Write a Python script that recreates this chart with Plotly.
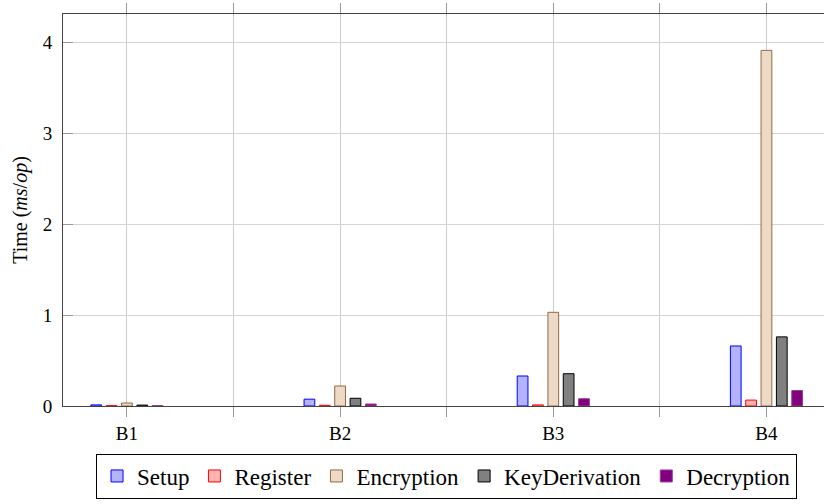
import plotly.graph_objects as go

categories = ["B1", "B2", "B3", "B4"]
setup = [0.012, 0.075, 0.33, 0.66]
register = [0.004, 0.008, 0.012, 0.065]
encryption = [0.033, 0.22, 1.03, 3.91]
key_derivation = [0.010, 0.085, 0.355, 0.76]
decryption = [0.005, 0.022, 0.08, 0.17]

series = [
    ("Setup", setup, "rgb(179,179,255)", "rgb(0,0,255)"),
    ("Register", register, "rgb(255,179,179)", "rgb(255,0,0)"),
    ("Encryption", encryption, "rgb(236,217,198)", "rgb(150,105,65)"),
    ("KeyDerivation", key_derivation, "rgb(128,128,128)", "rgb(0,0,0)"),
    ("Decryption", decryption, "rgb(128,0,128)", "rgb(150,60,150)"),
]

xpos = list(range(len(categories)))
font_family = "'Liberation Serif', 'DejaVu Serif', serif"

fig = go.Figure()
for name, vals, fill, line in series:
    fig.add_trace(go.Bar(
        x=xpos, y=vals, name=name,
        marker=dict(color=fill, line=dict(color=line, width=1)),
    ))

tickvals = [-0.5]
ticktext = [""]
for i, c in enumerate(categories):
    tickvals.append(i)
    ticktext.append(c)
    tickvals.append(i + 0.5)
    ticktext.append("")

fig.update_layout(
    width=824, height=504,
    margin=dict(l=63, r=0, t=14, b=98),
    paper_bgcolor="white", plot_bgcolor="white",
    barmode="group", bargap=0.64, bargroupgap=0.3,
    font=dict(family=font_family, color="black", size=18),
    showlegend=True,
    legend=dict(
        orientation="h", x=0.504, xanchor="center", y=-0.236, yanchor="bottom",
        bordercolor="black", borderwidth=1,
        font=dict(family=font_family, size=23, color="black"),
        itemwidth=30, tracegroupgap=0,
    ),
    xaxis=dict(
        range=[-0.3, 3.27],
        tickmode="array", tickvals=tickvals, ticktext=ticktext,
        ticks="outside", ticklen=10, tickcolor="#999999", tickwidth=1,
        showgrid=True, gridcolor="#cccccc", gridwidth=1,
        showline=True, linecolor="#444444", linewidth=1, mirror="ticks",
        zeroline=False, automargin=False,
        tickfont=dict(size=19),
    ),
    yaxis=dict(
        range=[0, 4.31],
        tickmode="array", tickvals=[0, 1, 2, 3, 4],
        ticks="inside", ticklen=10, tickcolor="#999999", tickwidth=1,
        ticklabelstandoff=6,
        showgrid=True, gridcolor="#d4d4d4", gridwidth=1,
        showline=True, linecolor="#444444", linewidth=1,
        zeroline=False, automargin=False,
        tickfont=dict(size=19),
        title=dict(text="Time (<i>ms</i>/<i>op</i>)", font=dict(size=20), standoff=9),
    ),
)

fig.write_html(
    "out.html",
    config={"displayModeBar": False},
    post_script="document.body.style.margin='0';document.body.style.padding='0';",
)
